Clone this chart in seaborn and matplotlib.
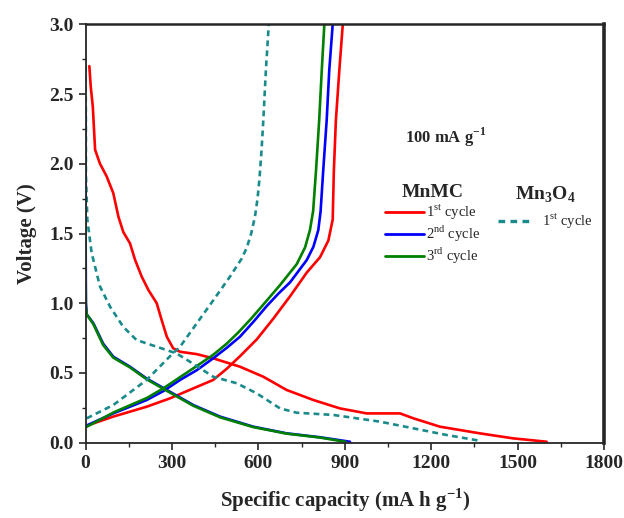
import numpy as np
import pandas as pd
import matplotlib
matplotlib.use("Agg")
import matplotlib.pyplot as plt
import seaborn as sns
from matplotlib.lines import Line2D
from matplotlib.ticker import MultipleLocator, FormatStrFormatter

sns.set_style("ticks")
plt.rcParams['font.family'] = ['Liberation Serif', 'DejaVu Serif']
plt.rcParams['mathtext.fontset'] = 'custom'
plt.rcParams['mathtext.rm'] = 'Liberation Serif'
plt.rcParams['mathtext.bf'] = 'Liberation Serif:bold'

# MnMC 1st cycle
c1_dis_x = [13, 18, 25, 33, 50, 73, 96, 114, 131, 154, 172, 195, 218, 247, 264, 282, 304, 328, 386, 443, 536,
            617, 698, 791, 883, 976, 1092, 1138, 1230, 1369, 1485, 1601]
c1_dis_y = [2.70, 2.55, 2.41, 2.10, 2.00, 1.91, 1.79, 1.62, 1.51, 1.43, 1.31, 1.19, 1.095, 1.00, 0.88, 0.76, 0.677,
            0.652, 0.635, 0.605, 0.545, 0.473, 0.378, 0.306, 0.246, 0.21, 0.21, 0.175, 0.115, 0.067, 0.031, 0.007]
c1_chg_x = [1, 96, 212, 293, 386, 443, 490, 536, 594, 652, 710, 768, 814, 843, 858, 862, 869, 881, 893]
c1_chg_y = [0.12, 0.187, 0.258, 0.318, 0.40, 0.45, 0.53, 0.62, 0.74, 0.89, 1.05, 1.22, 1.33, 1.45, 1.60, 1.95, 2.31,
            2.67, 3.0]

# MnMC 2nd cycle
c2_dis_x = [0, 0, 1, 4, 27, 61, 96, 154, 212, 282, 374, 467, 582, 698, 814, 918]
c2_dis_y = [2.40, 1.60, 1.00, 0.92, 0.856, 0.71, 0.617, 0.545, 0.46, 0.378, 0.27, 0.187, 0.115, 0.067, 0.039, 0.007]
c2_chg_x = [0, 96, 212, 270, 328, 386, 443, 490, 536, 584, 629, 670, 710, 768, 791, 808, 816, 825, 837, 846, 858]
c2_chg_y = [0.12, 0.21, 0.306, 0.37, 0.45, 0.52, 0.605, 0.68, 0.76, 0.87, 0.98, 1.07, 1.15, 1.31, 1.405, 1.525,
            1.66, 1.95, 2.31, 2.67, 3.0]

# MnMC 3rd cycle
c3_dis_x = [0, 0, 1, 4, 27, 61, 96, 154, 212, 282, 374, 467, 582, 698, 814, 903]
c3_dis_y = [1.70, 1.20, 0.98, 0.92, 0.85, 0.70, 0.61, 0.54, 0.455, 0.372, 0.265, 0.182, 0.112, 0.065, 0.037, 0.006]
c3_chg_x = [0, 100, 212, 270, 328, 386, 443, 490, 530, 575, 617, 675, 733, 762, 779, 790, 800, 811, 820, 829]
c3_chg_y = [0.11, 0.22, 0.32, 0.39, 0.47, 0.55, 0.63, 0.71, 0.79, 0.89, 0.99, 1.13, 1.28, 1.40, 1.525, 1.66, 1.95,
            2.31, 2.67, 3.0]

# Mn3O4 1st cycle
m_dis_x = [0, 1, 1, 6, 21, 50, 85, 131, 177, 247, 316, 386, 443, 525, 594, 675, 733, 860, 1022, 1138, 1254, 1369]
m_dis_y = [2.70, 2.30, 1.93, 1.60, 1.36, 1.12, 0.975, 0.83, 0.736, 0.688, 0.64, 0.55, 0.473, 0.426, 0.354, 0.246,
           0.215, 0.199, 0.151, 0.103, 0.055, 0.014]
m_chg_x = [4, 96, 212, 293, 328, 386, 443, 501, 542, 560, 575, 588, 597, 604, 611, 617, 626, 636]
m_chg_y = [0.175, 0.27, 0.45, 0.62, 0.688, 0.856, 1.02, 1.19, 1.32, 1.40, 1.50, 1.62, 1.75, 1.90, 2.10, 2.31, 2.67,
           3.0]

red, blue, green, teal = "#ff0000", "#0000ff", "#008000", "#1a8a8a"

fig = plt.figure(figsize=(6.24, 5.18), dpi=100)
ax = fig.add_axes([85.6 / 624, 1 - 442.7 / 518, 518.4 / 624, 418.4 / 518])

segments = [
    (c1_dis_x, c1_dis_y, red, "-"), (c1_chg_x, c1_chg_y, red, "-"),
    (c2_dis_x, c2_dis_y, blue, "-"), (c2_chg_x, c2_chg_y, blue, "-"),
    (c3_dis_x, c3_dis_y, green, "-"), (c3_chg_x, c3_chg_y, green, "-"),
    (m_dis_x, m_dis_y, teal, "--"), (m_chg_x, m_chg_y, teal, "--"),
]
for xs, ys, col, ls in segments:
    df = pd.DataFrame({"x": xs, "y": ys})
    sns.lineplot(data=df, x="x", y="y", sort=False, estimator=None, color=col,
                 linestyle=ls, linewidth=1.9, ax=ax)
for ln in ax.lines:
    ln.set_solid_joinstyle('round')
    ln.set_dash_joinstyle('round')
for ln in ax.lines[-2:]:
    ln.set_dashes([2.2, 1.6])

ax.set_xlim(0, 1800)
ax.set_ylim(0, 3.0)
ax.xaxis.set_major_locator(MultipleLocator(300))
ax.xaxis.set_minor_locator(MultipleLocator(150))
ax.yaxis.set_major_locator(MultipleLocator(0.5))
ax.yaxis.set_minor_locator(MultipleLocator(0.25))
ax.yaxis.set_major_formatter(FormatStrFormatter('%.1f'))
ax.tick_params(which='major', direction='out', length=5, width=1.2, labelsize=14)
ax.tick_params(which='minor', direction='out', length=3, width=1.0)
for lab in ax.get_xticklabels() + ax.get_yticklabels():
    lab.set_fontweight('bold')
for side in ['left', 'bottom']:
    ax.spines[side].set_linewidth(1.3)
ax.spines['top'].set_linewidth(1.8)
ax.spines['right'].set_linewidth(2.6)

ax.set_xlabel("Specific capacity (mA h g$^{\\mathbf{-1}}$)", fontsize=15, fontweight='bold', labelpad=11)
ax.set_ylabel("Voltage (V)", fontsize=15, fontweight='bold', labelpad=9)

ax.text(0.695, 0.73, "100 mA g$^{\\mathbf{-1}}$", transform=ax.transAxes, fontsize=12,
        fontweight='bold', ha='center', va='center')

h1 = [Line2D([], [], color=red, lw=2), Line2D([], [], color=blue, lw=2), Line2D([], [], color=green, lw=2)]
leg1 = ax.legend(h1, ["1$^{\\mathrm{st}}$ cycle", "2$^{\\mathrm{nd}}$ cycle", "3$^{\\mathrm{rd}}$ cycle"],
                 title="MnMC", loc='upper left', bbox_to_anchor=(0.564, 0.635), frameon=False,
                 fontsize=10.5, handlelength=2.67, handletextpad=0.15, labelspacing=0.1, borderpad=0)
leg1.get_title().set_fontsize(14)
leg1.get_title().set_fontweight('bold')
ax.add_artist(leg1)

h2 = [Line2D([], [], color=teal, lw=2.4, dashes=[2.0, 1.6])]
leg2 = ax.legend(h2, ["1$^{\\mathrm{st}}$ cycle"], title="Mn$_\\mathbf{3}$O$_\\mathbf{4}$",
                 loc='upper left', bbox_to_anchor=(0.781, 0.635), frameon=False, fontsize=10.5,
                 handlelength=2.3, handletextpad=0.7, borderpad=0)
leg2.get_title().set_fontsize(14)
leg2.get_title().set_fontweight('bold')

fig.savefig("out.png", dpi=100)
